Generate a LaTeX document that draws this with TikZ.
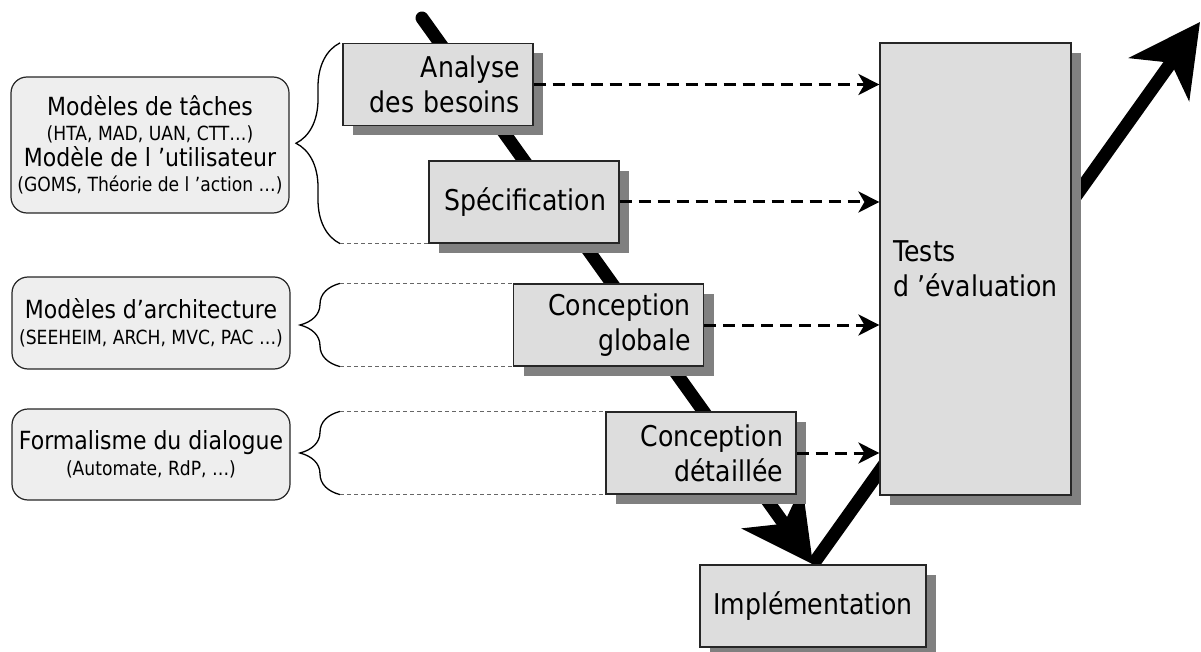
\documentclass[tikz,border=0pt]{standalone}
\usepackage{fontspec}
\setmainfont{DejaVu Sans}[FakeStretch=0.88]
\usetikzlibrary{arrows.meta,shadows,backgrounds,decorations.pathreplacing}

\definecolor{boxgray}{HTML}{DDDDDD}
\definecolor{modelgray}{HTML}{EEEEEE}
\definecolor{shadowgray}{HTML}{808080}
\newcommand{\modelrefs}[1]{{\fontsize{19.5}{25}\selectfont #1}}

\begin{document}
\begin{tikzpicture}[x=1pt, y=-1pt,
	box/.style={draw=black!85, line width=1.2pt, fill=boxgray, inner xsep=13pt, inner ysep=0pt,
		minimum height=82pt, font=\fontsize{28.6}{35}\selectfont,
		drop shadow={shadow xshift=10pt, shadow yshift=-10pt, fill=shadowgray, opacity=1}},
	phase/.style={box, align=right, text width=164pt},
	model/.style={draw=black!85, line width=1.2pt, fill=modelgray, rounded corners=16pt,
		minimum width=278pt, inner sep=0pt, align=center, font=\fontsize{25}{25.5}\selectfont},
	bigarrow/.style={line width=13pt, -{Stealth[length=70pt, width=73pt, inset=20pt]}},
	feed/.style={line width=3pt, dash pattern=on 12pt off 7pt, -{Stealth[length=21pt, width=21pt, inset=6pt]}},
	guide/.style={line width=1pt, black!60, dash pattern=on 4pt off 3pt},
	grouping/.style={line width=1.3pt, decorate, decoration={brace, amplitude=#1}},
	grouping/.default=40pt]
	\useasboundingbox (0,0) rectangle (1201,652);

	\node[model, minimum height=136pt] (taches) at (150, 145)
		{Modèles de tâches\\\modelrefs{(HTA, MAD, UAN, CTT…)}\\Modèle de l ’utilisateur\\\modelrefs{(GOMS, Théorie de l ’action …)}};
	\node[model, minimum height=92pt] (archi) at (151, 323)
		{Modèles d’architecture\\\modelrefs{(SEEHEIM, ARCH, MVC, PAC …)}};
	\node[model, minimum height=91pt] (dialogue) at (151, 454.5)
		{Formalisme du dialogue\\\modelrefs{(Automate, RdP, …)}};

	\node[phase] (analyse)	at (438, 84.5)	{Analyse\\des besoins};
	\node[phase] (spec)	at (524, 202)	{Spécification};
	\node[phase] (globale)	at (608.5, 325)	{Conception\\globale};
	\node[phase] (detail)	at (701, 453)	{Conception\\détaillée};
	\node[box, minimum width=226pt] (impl) at (813, 606) {Implémentation};
	\node[box, align=left, minimum width=191pt, minimum height=452pt] (tests) at (975.5, 269)
		{Tests\\d ’évaluation};

	% the V of the cycle, behind the boxes
	\coordinate (start) at (422, 18);
	\coordinate (exit) at (1200, 22);
	\begin{scope}[on background layer]
		\draw[bigarrow, line cap=round] (start) -- (impl.north);
		\draw[bigarrow] (impl.north) -- (exit);
	\end{scope}

	\draw[feed] (analyse.east) -- (analyse.east -| tests.west);
	\draw[feed] (spec.east) -- (spec.east -| tests.west);
	\draw[feed] (globale.east) -- (globale.east -| tests.west);
	\draw[feed] (detail.east) -- (detail.east -| tests.west);

	% braces from the models to the phases
	\coordinate (bx) at (340, 0);
	\draw[grouping=44pt] (spec.south west -| bx) -- (analyse.north west -| bx);
	\draw[guide] (spec.south west -| bx) -- (spec.south west);

	\draw[grouping] (globale.south west -| bx) -- (globale.north west -| bx);
	\draw[guide] (globale.north west -| bx) -- (globale.north west);
	\draw[guide] (globale.south west -| bx) -- (globale.south west);

	\draw[grouping] (detail.south west -| bx) -- (detail.north west -| bx);
	\draw[guide] (detail.north west -| bx) -- (detail.north west);
	\draw[guide] (detail.south west -| bx) -- (detail.south west);
\end{tikzpicture}
\end{document}
